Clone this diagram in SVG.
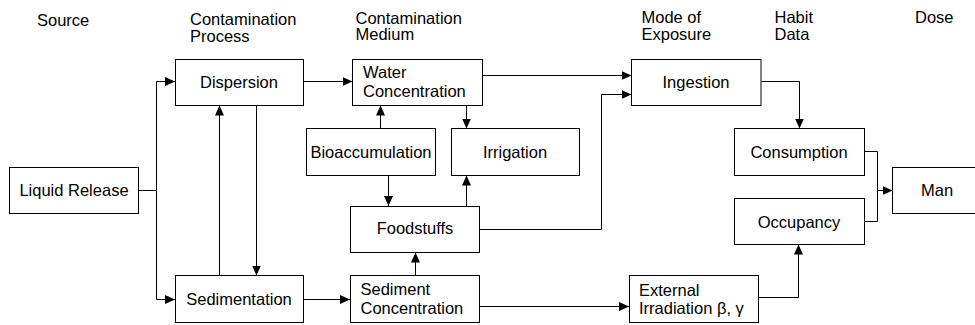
<svg xmlns="http://www.w3.org/2000/svg" width="975" height="325" viewBox="0 0 975 325">
<defs>
<style>
.box{fill:#fff;stroke:#000;stroke-width:1}
.t{font-family:"Liberation Sans",Arial,sans-serif;font-size:16.5px;fill:#000}
.c{text-anchor:middle}
.ln{fill:none;stroke:#000;stroke-width:1}
</style>
<marker id="ah" markerUnits="userSpaceOnUse" markerWidth="10" markerHeight="10" refX="10" refY="4.5" orient="auto">
<path d="M0,0 L10,4.5 L0,9 z" fill="#000"/>
</marker>
</defs>
<rect width="975" height="325" fill="#fff"/>
<g id="headers">
<text class="t" x="37" y="26">Source</text>
<text class="t" x="190" y="25">Contamination</text>
<text class="t" x="190" y="41.5">Process</text>
<text class="t" x="355.5" y="23.5">Contamination</text>
<text class="t" x="355.5" y="40">Medium</text>
<text class="t" x="641.5" y="22.5">Mode of</text>
<text class="t" x="641.5" y="39.5">Exposure</text>
<text class="t" x="774.5" y="22.5">Habit</text>
<text class="t" x="774.5" y="39.5">Data</text>
<text class="t" x="915" y="22.5">Dose</text>
</g>
<g id="connectors">
<path class="ln" d="M138.5,190.5 H156.5"/>
<path class="ln" marker-end="url(#ah)" d="M156.5,190.5 V81.5 H175"/>
<path class="ln" marker-end="url(#ah)" d="M156.5,190.5 V299.5 H175"/>
<path class="ln" marker-end="url(#ah)" d="M303.5,81.5 H352.5"/>
<path class="ln" marker-end="url(#ah)" d="M219.5,275.5 V105.5"/>
<path class="ln" marker-end="url(#ah)" d="M256.5,105.5 V275.5"/>
<path class="ln" marker-end="url(#ah)" d="M303.5,299.5 H350"/>
<path class="ln" marker-end="url(#ah)" d="M380.5,128.5 V105.5"/>
<path class="ln" marker-end="url(#ah)" d="M388.5,175.5 V206"/>
<path class="ln" marker-end="url(#ah)" d="M466.5,105.5 V128.5"/>
<path class="ln" marker-end="url(#ah)" d="M466.5,206 V175.5"/>
<path class="ln" marker-end="url(#ah)" d="M415.5,275.5 V252.5"/>
<path class="ln" marker-end="url(#ah)" d="M482.5,75.5 H631.5"/>
<path class="ln" marker-end="url(#ah)" d="M479,229.5 H601.5 V94.5 H631.5"/>
<path class="ln" marker-end="url(#ah)" d="M761.5,81.5 H799.5 V128.5"/>
<path class="ln" marker-end="url(#ah)" d="M479,306.5 H629"/>
<path class="ln" marker-end="url(#ah)" d="M758.5,297.5 H798.5 V244.5"/>
<path class="ln" d="M864.5,151.5 H877.5 V221.5 H864.5"/>
<path class="ln" marker-end="url(#ah)" d="M877.5,190.5 H892.5"/>
</g>
<g id="liquid-release">
<rect class="box" x="9.5" y="167.5" width="129" height="46"/>
<text class="t c" x="74" y="196">Liquid Release</text>
</g>
<g id="dispersion">
<rect class="box" x="175.5" y="59.5" width="128" height="46"/>
<text class="t c" x="239" y="88">Dispersion</text>
</g>
<g id="sedimentation">
<rect class="box" x="175.5" y="275.5" width="128" height="47"/>
<text class="t c" x="239" y="305">Sedimentation</text>
</g>
<g id="water-concentration">
<rect class="box" x="352.5" y="59.5" width="130" height="46"/>
<text class="t" x="363" y="78">Water</text>
<text class="t" x="363" y="96.5">Concentration</text>
</g>
<g id="bioaccumulation">
<rect class="box" x="306.5" y="128.5" width="129" height="47"/>
<text class="t c" x="371" y="158">Bioaccumulation</text>
</g>
<g id="irrigation">
<rect class="box" x="451.5" y="128.5" width="128" height="47"/>
<text class="t c" x="515" y="158">Irrigation</text>
</g>
<g id="foodstuffs">
<rect class="box" x="350.5" y="206.5" width="129" height="46"/>
<text class="t c" x="415" y="234">Foodstuffs</text>
</g>
<g id="sediment-concentration">
<rect class="box" x="350.5" y="275.5" width="129" height="47"/>
<text class="t" x="360.5" y="295">Sediment</text>
<text class="t" x="360.5" y="313.5">Concentration</text>
</g>
<g id="ingestion">
<rect class="box" x="631.5" y="59.5" width="129.5" height="46"/>
<text class="t c" x="696" y="88">Ingestion</text>
</g>
<g id="external-irradiation">
<rect class="box" x="629.5" y="275.5" width="129" height="47"/>
<text class="t" x="639" y="296">External</text>
<text class="t" x="639" y="314">Irradiation β, γ</text>
</g>
<g id="consumption">
<rect class="box" x="734.5" y="128.5" width="130" height="47"/>
<text class="t c" x="799" y="158">Consumption</text>
</g>
<g id="occupancy">
<rect class="box" x="734.5" y="198.5" width="130" height="46"/>
<text class="t c" x="799" y="228">Occupancy</text>
</g>
<g id="man">
<rect class="box" x="892.5" y="167.5" width="100" height="46"/>
<text class="t" x="921" y="196">Man</text>
</g>
</svg>
